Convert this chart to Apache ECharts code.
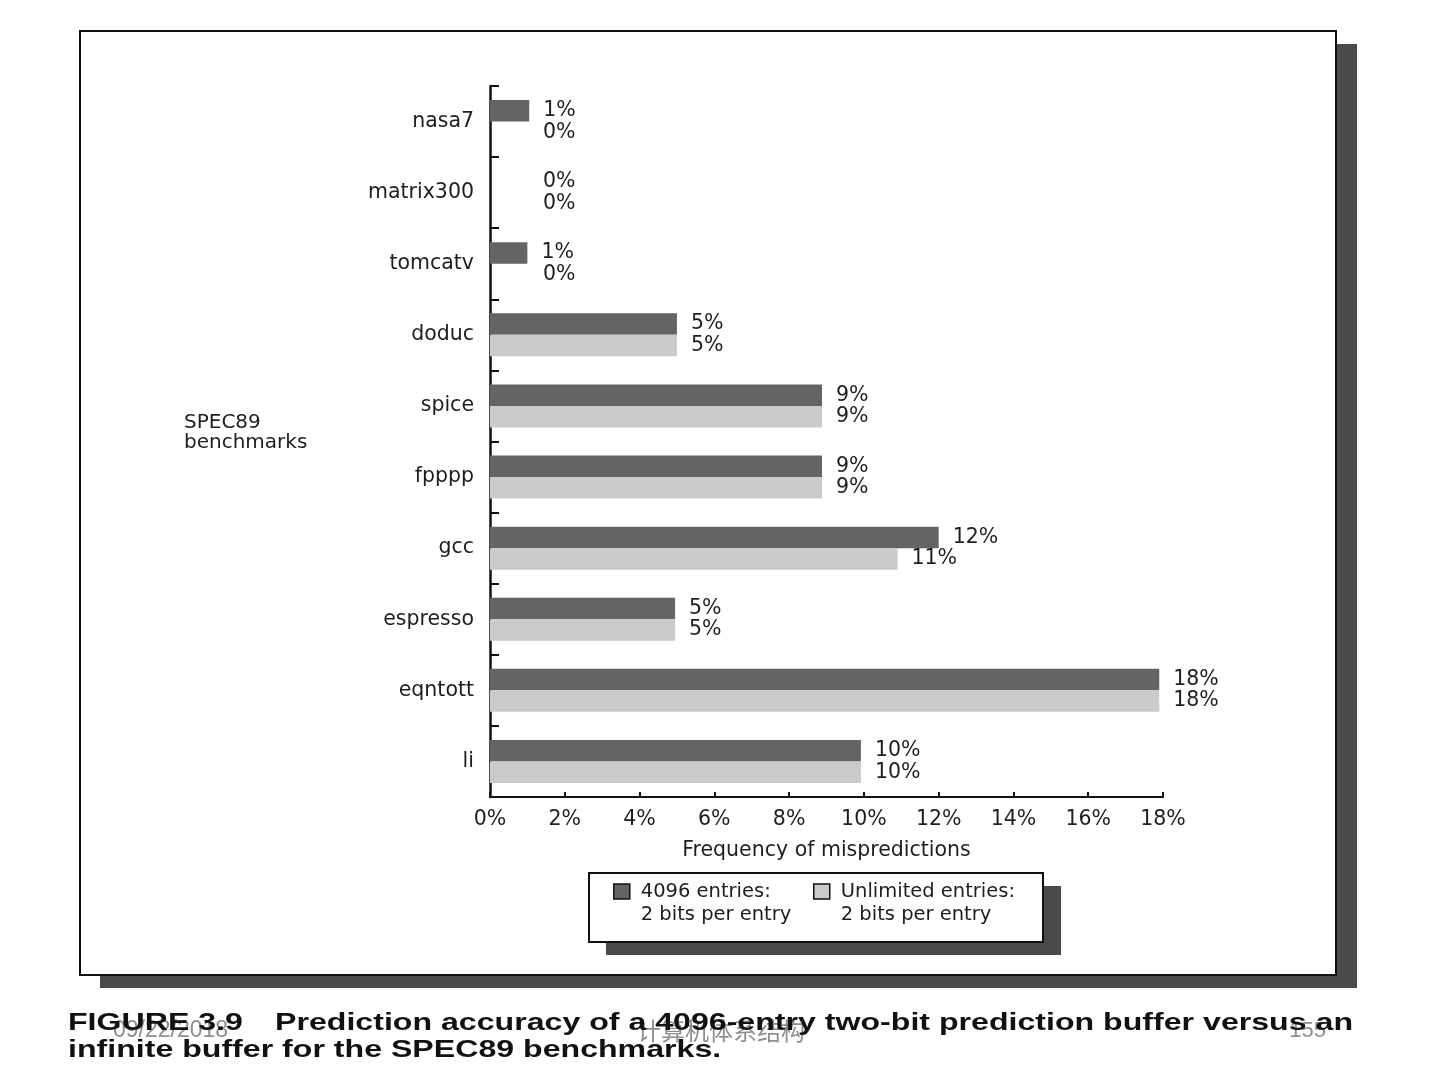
<!DOCTYPE html>
<html>
<head>
<meta charset="utf-8">
<script src="https://cdn.jsdelivr.net/npm/echarts@6/dist/echarts.min.js"></script>
<style>
html,body{margin:0;padding:0;background:#fff;}
#chart{width:1440px;height:1080px;}
</style>
</head>
<body>
<div id="chart"></div>
<script>
const categories = ['nasa7','matrix300','tomcatv','doduc','spice','fpppp','gcc','espresso','eqntott','li'];
const values4096 = [1.05, 0, 1.0, 5.0, 8.88, 8.88, 12.0, 4.95, 17.9, 9.92];
const valuesUnlimited = [0, 0, 0, 5.0, 8.88, 8.88, 10.9, 4.95, 17.9, 9.92];
const labels4096 = ['1%','0%','1%','5%','9%','9%','12%','5%','18%','10%'];
const labelsUnlimited = ['0%','0%','0%','5%','9%','9%','11%','5%','18%','10%'];
const xTicks = [0,2,4,6,8,10,12,14,16,18];
const seriesNames = ['4096 entries:\n2 bits per entry', 'Unlimited entries:\n2 bits per entry'];
const yTitle = ['SPEC89', 'benchmarks'];
const xTitle = 'Frequency of mispredictions';
const captionHead = 'FIGURE 3.9';
const captionLine1 = 'Prediction accuracy of a 4096-entry two-bit prediction buffer versus an';
const captionLine2 = 'infinite buffer for the SPEC89 benchmarks.';
const footerDate = '09/22/2018';
const footerTitle = '计算机体系结构';
const footerPage = '155';

const FONT = '"DejaVu Sans", sans-serif';
const FS = 20.5;
const DARK = '#646464';
const LIGHT = '#cbcbcb';
const SHADOW = '#4a4a4a';
const INK = '#1e1e1e';

// measure caption to stretch it like the reference
const cv = document.createElement('canvas').getContext('2d');
const capFont = 'bold 24px "Liberation Sans", Arial, sans-serif';
cv.font = capFont;
const capScale = 1078 / cv.measureText(captionLine1).width;

function buildData(vals) {
  return vals.map(v => ({ value: v, label: { distance: v === 0 ? 53 : 14 } }));
}

const chart = echarts.init(document.getElementById('chart'), null, { renderer: 'canvas' });

const legendCommon = {
  orient: 'horizontal',
  top: 857,
  padding: 0,
  itemWidth: 16,
  itemHeight: 15,
  icon: 'rect',
  selectedMode: false,
  itemStyle: { borderColor: '#111', borderWidth: 1.5 },
  formatter: name => '\n' + name,
  textStyle: { fontFamily: FONT, fontSize: 19.5, color: INK, lineHeight: 23, padding: [0, 0, 0, 6] }
};

chart.setOption({
  animation: false,
  backgroundColor: '#fff',
  textStyle: { fontFamily: FONT },
  grid: { left: 490, right: 277, top: 86, bottom: 283, containLabel: false },
  legend: [
    Object.assign({}, legendCommon, { left: 613, data: [seriesNames[0]] }),
    Object.assign({}, legendCommon, { left: 813, data: [seriesNames[1]] })
  ],
  xAxis: {
    type: 'value',
    min: xTicks[0],
    max: xTicks[xTicks.length - 1],
    interval: xTicks[1] - xTicks[0],
    name: xTitle,
    nameLocation: 'middle',
    nameGap: 43,
    nameTextStyle: { fontFamily: FONT, fontSize: FS, color: INK },
    axisLine: { show: true, lineStyle: { color: '#111', width: 2 } },
    axisTick: { show: true, inside: true, length: 5, lineStyle: { color: '#111', width: 2 } },
    axisLabel: { formatter: '{value}%', margin: 12, fontFamily: FONT, fontSize: FS, color: INK },
    splitLine: { show: false }
  },
  yAxis: {
    type: 'category',
    data: categories,
    inverse: true,
    axisLine: { show: true, lineStyle: { color: '#111', width: 2.5 } },
    axisTick: { show: true, inside: true, length: 9, lineStyle: { color: '#111', width: 2 } },
    axisLabel: { margin: 16, fontFamily: FONT, fontSize: FS, color: INK }
  },
  series: [
    {
      name: seriesNames[0],
      type: 'bar',
      data: buildData(values4096),
      barWidth: 21.5,
      barGap: '0%',
      itemStyle: { color: DARK },
      label: {
        show: true, position: 'right', fontFamily: FONT, fontSize: FS, color: INK,
        formatter: p => labels4096[p.dataIndex]
      },
      z: 3
    },
    {
      name: seriesNames[1],
      type: 'bar',
      data: buildData(valuesUnlimited),
      barWidth: 21.5,
      barGap: '0%',
      itemStyle: { color: LIGHT },
      label: {
        show: true, position: 'right', fontFamily: FONT, fontSize: FS, color: INK,
        formatter: p => labelsUnlimited[p.dataIndex]
      },
      z: 3
    }
  ],
  graphic: [
    // outer frame shadow and frame
    { type: 'rect', z: -20, shape: { x: 100, y: 44, width: 1257, height: 944 }, style: { fill: SHADOW } },
    { type: 'rect', z: -19, shape: { x: 80, y: 31, width: 1256, height: 944 }, style: { fill: '#fff', stroke: '#111', lineWidth: 2 } },
    // legend box shadow and box
    { type: 'rect', z: -18, shape: { x: 606, y: 886, width: 455, height: 69 }, style: { fill: SHADOW } },
    { type: 'rect', z: -17, shape: { x: 589, y: 873, width: 454, height: 69 }, style: { fill: '#fff', stroke: '#111', lineWidth: 2 } },
    // y title
    { type: 'text', z: 5, x: 184, y: 433, style: { text: yTitle.join('\n'), font: '20px ' + FONT, fill: INK, lineHeight: 20, textVerticalAlign: 'middle' } },
    // footer (slide overlay)
    { type: 'text', z: 5, x: 113, y: 1031, style: { text: footerDate, font: '23px "Liberation Sans", sans-serif', fill: '#8f8f8f', textVerticalAlign: 'middle' } },
    { type: 'text', z: 5, x: 721, y: 1031, style: { text: footerTitle, font: '24px "Noto Sans CJK SC", sans-serif', fill: '#8f8f8f', textAlign: 'center', textVerticalAlign: 'middle' } },
    { type: 'text', z: 5, x: 1326, y: 1031, style: { text: footerPage, font: '22px "Liberation Sans", sans-serif', fill: '#8f8f8f', textAlign: 'right', textVerticalAlign: 'middle' } },
    // caption
    { type: 'text', z: 6, x: 68, y: 1023, scaleX: capScale, style: { text: captionHead, font: capFont, fill: '#111', textVerticalAlign: 'middle' } },
    { type: 'text', z: 6, x: 275, y: 1023, scaleX: capScale, style: { text: captionLine1, font: capFont, fill: '#111', textVerticalAlign: 'middle' } },
    { type: 'text', z: 6, x: 68, y: 1050, scaleX: capScale, style: { text: captionLine2, font: capFont, fill: '#111', textVerticalAlign: 'middle' } }
  ]
});
</script>
</body>
</html>
